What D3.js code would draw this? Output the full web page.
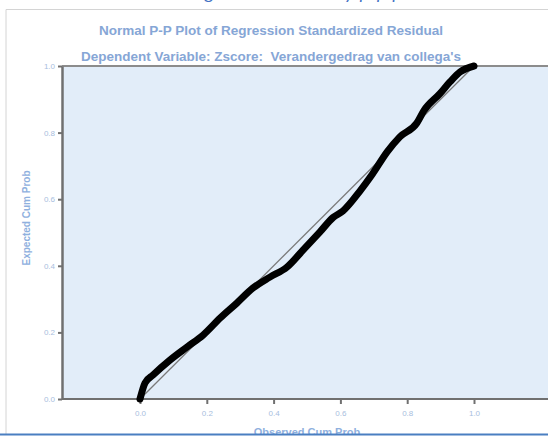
<!DOCTYPE html>
<html>
<head>
<meta charset="utf-8">
<script src="https://cdn.jsdelivr.net/npm/d3@7"></script>
<style>
  body { margin: 0; background: #fff; overflow: hidden; }
  text { font-family: "Liberation Sans", Arial, sans-serif; }
</style>
</head>
<body>
<div id="chart"></div>
<script>
// data
const observed = [0, 0.015, 0.039, 0.090, 0.141, 0.189, 0.240, 0.290, 0.338, 0.389, 0.440, 0.488,
                  0.539, 0.578, 0.608, 0.659, 0.695, 0.740, 0.778, 0.829, 0.850, 0.898, 0.928, 0.958, 1.0];
const expected = [0, 0.048, 0.072, 0.117, 0.156, 0.192, 0.243, 0.288, 0.333, 0.366, 0.396, 0.447,
                  0.502, 0.545, 0.565, 0.625, 0.674, 0.742, 0.787, 0.829, 0.866, 0.917, 0.952, 0.982, 1.0];
const tickValues = [0, 0.2, 0.4, 0.6, 0.8, 1.0];
const title1 = "Normal P-P Plot of Regression Standardized Residual";
const title2 = "Dependent Variable: Zscore:  Verandergedrag van collega's";

const W = 548, H = 437;
const plot = {left: 62, right: 548, top: 66, bottom: 399};

const svg = d3.select("#chart").append("svg")
    .attr("width", W).attr("height", H);

const x = d3.scaleLinear().domain([0, 1]).range([140, 474]);
const y = d3.scaleLinear().domain([0, 1]).range([plot.bottom, plot.top]);

// caption cut off at top
svg.append("text")
    .attr("x", 190).attr("y", -1.5)
    .attr("textLength", 235)
    .style("font-family", "Calibri, 'Liberation Sans', sans-serif")
    .style("font-style", "italic")
    .style("font-size", "19px")
    .attr("fill", "#4472c4")
    .text("Figuur 2: Normality p-p plot");

// outer frame
svg.append("path")
    .attr("d", `M6,${H}V9.5H${W}`)
    .attr("fill", "none").attr("stroke", "#d4d4d4").attr("stroke-width", 1);

// titles
svg.append("text").attr("x", 271).attr("y", 35)
    .attr("text-anchor", "middle")
    .attr("textLength", 344).attr("lengthAdjust", "spacingAndGlyphs")
    .style("font-size", "12.5px").style("font-weight", "bold")
    .attr("fill", "#86a6d6").text(title1);
svg.append("text").attr("x", 271).attr("y", 61)
    .attr("text-anchor", "middle")
    .attr("textLength", 380).attr("lengthAdjust", "spacingAndGlyphs")
    .style("font-size", "12.5px").style("font-weight", "bold")
    .style("white-space", "pre")
    .attr("fill", "#86a6d6").text(title2);

// plot area
svg.append("rect")
    .attr("x", plot.left).attr("y", plot.top)
    .attr("width", plot.right - plot.left).attr("height", plot.bottom - plot.top)
    .attr("fill", "#e2edf9");
svg.append("line")
    .attr("x1", plot.left).attr("x2", plot.right)
    .attr("y1", plot.top).attr("y2", plot.top)
    .attr("stroke", "#8c8c8c").attr("stroke-width", 2);

// axes
const yAxis = svg.append("g")
    .attr("transform", `translate(${plot.left},0)`)
    .call(d3.axisLeft(y).tickValues(tickValues).tickFormat(d3.format(".1f")).tickSize(4).tickSizeOuter(0));
const xAxis = svg.append("g")
    .attr("transform", `translate(0,${plot.bottom})`)
    .call(d3.axisBottom(x).tickValues(tickValues).tickFormat(d3.format(".1f")).tickSize(5).tickSizeOuter(0));
xAxis.select(".domain").remove();
svg.append("line")
    .attr("x1", plot.left).attr("x2", plot.right)
    .attr("y1", plot.bottom).attr("y2", plot.bottom)
    .attr("stroke", "#707070").attr("stroke-width", 2);

[xAxis, yAxis].forEach(g => {
    g.selectAll(".domain").attr("stroke", "#707070").attr("stroke-width", 2.5);
    g.selectAll(".tick line").attr("stroke", "#707070").attr("stroke-width", 2);
    g.selectAll(".tick text").attr("fill", "#a8bede")
        .style("font-size", "8px").style("font-family", "'Liberation Sans', Arial, sans-serif");
});
xAxis.selectAll(".tick text").attr("dy", "1.1em");

// axis titles
svg.append("text")
    .attr("transform", "translate(30,218) rotate(-90)")
    .attr("text-anchor", "middle")
    .style("font-size", "10px").style("font-weight", "bold")
    .attr("fill", "#8fb0de").text("Expected Cum Prob");
svg.append("text")
    .attr("x", 307).attr("y", 436)
    .attr("text-anchor", "middle")
    .style("font-size", "11px").style("font-weight", "bold")
    .attr("fill", "#8fb0de").text("Observed Cum Prob");

// reference diagonal
svg.append("line")
    .attr("x1", x(0)).attr("y1", y(0)).attr("x2", x(1)).attr("y2", y(1))
    .attr("stroke", "#7a7a7a").attr("stroke-width", 1.3);

// residual curve
const pts = observed.map((o, i) => [o, expected[i]]);
svg.append("path")
    .datum(pts)
    .attr("d", d3.line().x(d => x(d[0])).y(d => y(d[1])).curve(d3.curveMonotoneX))
    .attr("fill", "none").attr("stroke", "#000")
    .attr("stroke-width", 7).attr("stroke-linecap", "round").attr("stroke-linejoin", "round");

// blue rule at bottom
svg.append("rect")
    .attr("x", 0).attr("y", 434).attr("width", W).attr("height", 3)
    .attr("fill", "#fff");
svg.append("line")
    .attr("x1", 0).attr("x2", W).attr("y1", 434.5).attr("y2", 434.5)
    .attr("stroke", "#4a7fc1").attr("stroke-width", 2);
</script>
</body>
</html>
